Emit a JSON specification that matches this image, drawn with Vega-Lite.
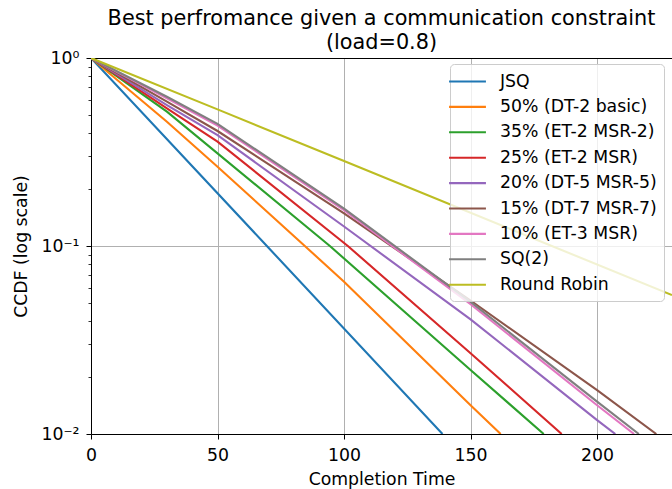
{
  "$schema": "https://vega.github.io/schema/vega-lite/v6.json",
  "width": 581,
  "height": 376,
  "autosize": {"type": "none"},
  "padding": {"left": 91, "top": 58, "right": 0, "bottom": 55},
  "background": "white",
  "config": {"view": {"stroke": null}, "font": "DejaVu Sans"},
  "title": {
    "text": ["Best perfromance given a communication constraint", "(load=0.8)"],
    "font": "DejaVu Sans",
    "fontSize": 20.8,
    "fontWeight": "normal",
    "color": "black",
    "lineHeight": 24,
    "offset": -5,
    "anchor": "middle"
  },
  "resolve": {"axis": {"x": "independent"}},
  "data": {
    "values": [
      {"s": "JSQ", "t": 0, "p": 1},
      {"s": "JSQ", "t": 69.5, "p": 0.1},
      {"s": "JSQ", "t": 138.9, "p": 0.01},
      {"s": "50% (DT-2 basic)", "t": 0, "p": 1},
      {"s": "50% (DT-2 basic)", "t": 30, "p": 0.458},
      {"s": "50% (DT-2 basic)", "t": 50, "p": 0.264},
      {"s": "50% (DT-2 basic)", "t": 84.5, "p": 0.1},
      {"s": "50% (DT-2 basic)", "t": 100, "p": 0.0646},
      {"s": "50% (DT-2 basic)", "t": 150, "p": 0.0142},
      {"s": "50% (DT-2 basic)", "t": 161.9, "p": 0.01},
      {"s": "35% (ET-2 MSR-2)", "t": 0, "p": 1},
      {"s": "35% (ET-2 MSR-2)", "t": 30, "p": 0.518},
      {"s": "35% (ET-2 MSR-2)", "t": 50, "p": 0.311},
      {"s": "35% (ET-2 MSR-2)", "t": 94.4, "p": 0.1},
      {"s": "35% (ET-2 MSR-2)", "t": 150, "p": 0.0219},
      {"s": "35% (ET-2 MSR-2)", "t": 178.9, "p": 0.01},
      {"s": "25% (ET-2 MSR)", "t": 0, "p": 1},
      {"s": "25% (ET-2 MSR)", "t": 30, "p": 0.54},
      {"s": "25% (ET-2 MSR)", "t": 50, "p": 0.359},
      {"s": "25% (ET-2 MSR)", "t": 101.5, "p": 0.1},
      {"s": "25% (ET-2 MSR)", "t": 150, "p": 0.0269},
      {"s": "25% (ET-2 MSR)", "t": 186, "p": 0.01},
      {"s": "20% (DT-5 MSR-5)", "t": 0, "p": 1},
      {"s": "20% (DT-5 MSR-5)", "t": 30, "p": 0.562},
      {"s": "20% (DT-5 MSR-5)", "t": 50, "p": 0.389},
      {"s": "20% (DT-5 MSR-5)", "t": 100, "p": 0.127},
      {"s": "20% (DT-5 MSR-5)", "t": 150, "p": 0.0407},
      {"s": "20% (DT-5 MSR-5)", "t": 200, "p": 0.01186},
      {"s": "20% (DT-5 MSR-5)", "t": 207.2, "p": 0.01},
      {"s": "15% (DT-7 MSR-7)", "t": 0, "p": 1},
      {"s": "15% (DT-7 MSR-7)", "t": 30, "p": 0.586},
      {"s": "15% (DT-7 MSR-7)", "t": 50, "p": 0.409},
      {"s": "15% (DT-7 MSR-7)", "t": 100, "p": 0.149},
      {"s": "15% (DT-7 MSR-7)", "t": 150, "p": 0.0513},
      {"s": "15% (DT-7 MSR-7)", "t": 200, "p": 0.0171},
      {"s": "15% (DT-7 MSR-7)", "t": 223.4, "p": 0.01},
      {"s": "10% (ET-3 MSR)", "t": 0, "p": 1},
      {"s": "10% (ET-3 MSR)", "t": 30, "p": 0.611},
      {"s": "10% (ET-3 MSR)", "t": 50, "p": 0.437},
      {"s": "10% (ET-3 MSR)", "t": 100, "p": 0.155},
      {"s": "10% (ET-3 MSR)", "t": 150, "p": 0.049},
      {"s": "10% (ET-3 MSR)", "t": 200, "p": 0.01422},
      {"s": "10% (ET-3 MSR)", "t": 214.6, "p": 0.01},
      {"s": "SQ(2)", "t": 0, "p": 1},
      {"s": "SQ(2)", "t": 30, "p": 0.622},
      {"s": "SQ(2)", "t": 50, "p": 0.446},
      {"s": "SQ(2)", "t": 100, "p": 0.158},
      {"s": "SQ(2)", "t": 150, "p": 0.0504},
      {"s": "SQ(2)", "t": 200, "p": 0.01486},
      {"s": "SQ(2)", "t": 216.5, "p": 0.01},
      {"s": "Round Robin", "t": 0, "p": 1},
      {"s": "Round Robin", "t": 50, "p": 0.533},
      {"s": "Round Robin", "t": 100, "p": 0.283},
      {"s": "Round Robin", "t": 229.6, "p": 0.0548}
    ]
  },
  "layer": [
    {
      "mark": {"type": "line", "strokeWidth": 2.1, "clip": true},
      "encoding": {
        "x": {
          "field": "t",
          "type": "quantitative",
          "scale": {"domain": [0, 229.6], "nice": false, "zero": false},
          "axis": {
            "values": [0, 50, 100, 150, 200],
            "title": "Completion Time",
            "titleFont": "DejaVu Sans",
            "titleFontSize": 17.3,
            "titleFontWeight": "normal",
            "titleColor": "black",
            "titlePadding": 7,
            "labelFont": "DejaVu Sans",
            "labelFontSize": 17.3,
            "labelColor": "black",
            "labelPadding": 7,
            "labelFlush": false,
            "tickSize": 5,
            "tickColor": "black",
            "tickWidth": 1,
            "domainColor": "black",
            "domainWidth": 1,
            "grid": true,
            "gridColor": "#b0b0b0",
            "gridWidth": 1
          }
        },
        "y": {
          "field": "p",
          "type": "quantitative",
          "scale": {"type": "log", "domain": [0.01, 1], "nice": false},
          "axis": {
            "values": [0.01, 0.02, 0.03, 0.04, 0.05, 0.06, 0.07, 0.08, 0.09, 0.1, 0.2, 0.3, 0.4, 0.5, 0.6, 0.7, 0.8, 0.9, 1],
            "labelExpr": "datum.value == 1 ? '10⁰' : datum.value == 0.1 ? '10⁻¹' : datum.value == 0.01 ? '10⁻²' : ''",
            "labelOverlap": false,
            "labelFlush": false,
            "title": "CCDF (log scale)",
            "titleFont": "DejaVu Sans",
            "titleFontSize": 17.3,
            "titleFontWeight": "normal",
            "titleColor": "black",
            "titlePadding": 10,
            "labelFont": "DejaVu Sans",
            "labelFontSize": 17.3,
            "labelColor": "black",
            "labelPadding": 7,
            "tickSize": {"condition": {"test": "datum.value == 1 || datum.value == 0.1 || datum.value == 0.01", "value": 5}, "value": 3},
            "tickWidth": {"condition": {"test": "datum.value == 1 || datum.value == 0.1 || datum.value == 0.01", "value": 1}, "value": 0.8},
            "tickColor": "black",
            "domainColor": "black",
            "domainWidth": 1,
            "grid": true,
            "gridColor": "#b0b0b0",
            "gridWidth": 1,
            "gridOpacity": {"condition": {"test": "datum.value == 1 || datum.value == 0.1 || datum.value == 0.01", "value": 1}, "value": 0}
          }
        },
        "color": {
          "field": "s",
          "type": "nominal",
          "scale": {
            "domain": ["JSQ", "50% (DT-2 basic)", "35% (ET-2 MSR-2)", "25% (ET-2 MSR)", "20% (DT-5 MSR-5)", "15% (DT-7 MSR-7)", "10% (ET-3 MSR)", "SQ(2)", "Round Robin"],
            "range": ["#1f77b4", "#ff7f0e", "#2ca02c", "#d62728", "#9467bd", "#8c564b", "#e377c2", "#7f7f7f", "#bcbd22"]
          },
          "legend": {
            "title": null,
            "orient": "none",
            "legendX": 359,
            "legendY": 6,
            "symbolType": "M-2,0H2",
            "symbolSize": 340,
            "symbolStrokeWidth": 2.1,
            "labelFont": "DejaVu Sans",
            "labelFontSize": 17.3,
            "labelColor": "black",
            "labelLimit": 400,
            "rowPadding": 6.4,
            "labelOffset": 22,
            "padding": 7,
            "fillColor": "rgba(255,255,255,0.8)",
            "strokeColor": "#cccccc",
            "cornerRadius": 4
          }
        }
      }
    },
    {
      "mark": {"type": "line", "opacity": 0},
      "encoding": {
        "x": {
          "field": "t",
          "type": "quantitative",
          "axis": {"orient": "top", "labels": false, "ticks": false, "grid": false, "title": null, "domainColor": "black", "domainWidth": 1}
        }
      }
    }
  ]
}
